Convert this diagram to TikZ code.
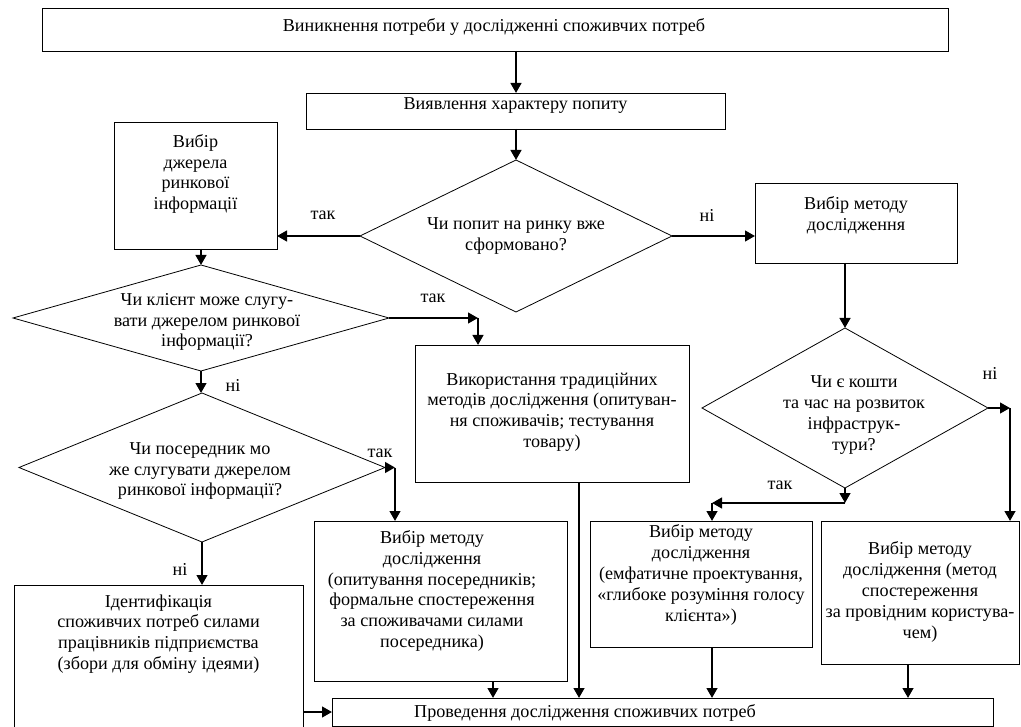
\documentclass[tikz,border=0pt]{standalone}
\usepackage{fontspec}
\setmainfont{Liberation Serif}
\usetikzlibrary{arrows.meta,shapes.geometric,calc}
\newdimen\pxu \pxu=0.75pt
\tikzset{
  box/.style 2 args={draw, line width=0.6pt, rectangle, inner sep=0pt, outer sep=0pt,
     minimum width=#1\pxu, minimum height=#2\pxu},
  dia/.style 2 args={draw, line width=0.6pt, diamond, inner sep=0pt, outer sep=0pt,
     minimum width=#1\pxu, minimum height=#2\pxu},
  txt/.style={align=center, inner sep=0pt, font=\fontsize{13.6}{15.6}\selectfont},
  lbl/.style={inner sep=0pt, font=\fontsize{13.6}{15.6}\selectfont},
  arr/.style={line width=1.7pt, -{Triangle[length=7.5pt,width=8pt]}}
}
\begin{document}
\begin{tikzpicture}[x=0.75pt, y=-0.75pt]
\useasboundingbox (0,0) rectangle (1021,727);
% boxes
\node[box={906}{43}] (b1) at (495,29.5) {};
\node[txt] at (494,27) {Виникнення потреби у дослідженні споживчих потреб};
\node[box={419}{36}] (b2) at (515.5,111) {};
\node[txt] at (515.5,106) {Виявлення характеру попиту};
\node[box={163}{127}] (src) at (195.5,185.5) {};
\node[txt] at (195.5,174) {Вибір\\джерела\\ринкової\\інформації};
\node[box={202}{80}] (meth) at (856,223) {};
\node[txt] at (856,215) {Вибір методу\\дослідження};
\node[box={274}{137}] (use) at (552,413.5) {};
\node[txt] at (552,412) {Використання традиційних\\методів дослідження (опитуван-\\ня споживачів; тестування\\товару)};
\node[box={253}{160}] (inter) at (440.5,601) {};
\node[txt] at (432,591) {Вибір методу\\дослідження\\(опитування посередників;\\формальне спостереження\\за споживачами силами\\посередника)};
\node[box={289}{143}] (ident) at (158.5,656.5) {};
\node[txt] at (158.5,634) {Ідентифікація\\споживчих потреб силами\\працівників підприємства\\(збори для обміну ідеями)};
\node[box={222}{126}] (emp) at (701,584) {};
\node[txt] at (701,575) {Вибір методу\\дослідження\\(емфатичне проектування,\\«глибоке розуміння голосу\\клієнта»)};
\node[box={198}{143}] (lead) at (920,592.5) {};
\node[txt] at (920,592) {Вибір методу\\дослідження (метод\\спостереження\\за провідним користува-\\чем)};
\node[box={661}{28}] (fin) at (662.5,712) {};
\node[txt] at (585,713) {Проведення дослідження споживчих потреб};
% diamonds
\node[dia={312}{152}] (d1) at (516,236) {};
\node[txt] at (516,236) {Чи попит на ринку вже\\сформовано?};
\node[dia={376}{106}] (d2) at (201,318) {};
\node[txt] at (207,322) {Чи клієнт може слугу-\\вати джерелом ринкової\\інформації?};
\node[dia={366}{149}] (d4) at (202,467.5) {};
\node[txt] at (200,471) {Чи посередник мо\\же слугувати джерелом\\ринкової інформації?};
\node[dia={286}{160}] (d3) at (845,408) {};
\node[txt] at (854,415) {Чи є кошти\\та час на розвиток\\інфраструк-\\тури?};
% helper coordinates
\coordinate (c3) at (1010,408);
\coordinate (c4) at (845,503);
\coordinate (c5) at (712,503);
\coordinate (c6) at (908,0);
\coordinate (c7) at (478,318);
\coordinate (c8) at (395,467.5);
\coordinate (c9) at (579,0);
\coordinate (c10) at (493,0);
% connectors
\draw[arr] (b1.south -| d1.north) -- (b2.north -| d1.north);
\draw[arr] (b2.south -| d1.north) -- (d1.north);
\draw[arr] (d1.west) -- (src.east |- d1.west);
\draw[arr] (d1.east) -- (meth.west |- d1.east);
\draw[arr] (meth.south -| d3.north) -- (d3.north);
\draw[arr] (d3.east) -- (c3);
\draw[arr] (c3) -- (lead.north -| c3);
\draw[arr] (d3.south) -- (c4);
\draw[arr] (c4) -- (c5);
\draw[arr] (c5) -- (emp.north -| c5);
\draw[arr] (emp.south -| c5) -- (fin.north -| c5);
\draw[arr] (lead.south -| c6) -- (fin.north -| c6);
\draw[arr] (src.south -| d2.north) -- (d2.north);
\draw[arr] (d2.east) -- (c7);
\draw[arr] (c7) -- (use.north -| c7);
\draw[arr] (use.south -| c9) -- (fin.north -| c9);
\draw[arr] (d2.south) -- (d2.south |- d4.north);
\draw[arr] (d4.east) -- (c8);
\draw[arr] (c8) -- (inter.north -| c8);
\draw[arr] (inter.south -| c10) -- (fin.north -| c10);
\draw[arr] (d4.south) -- (d4.south |- ident.north);
\draw[arr] (fin.west -| ident.east) -- (fin.west);
% labels
\node[lbl] at (323,215) {так};
\node[lbl] at (707,215) {ні};
\node[lbl] at (433,298) {так};
\node[lbl] at (233,385) {ні};
\node[lbl] at (380,453) {так};
\node[lbl] at (180,569) {ні};
\node[lbl] at (990,373) {ні};
\node[lbl] at (780,485) {так};
\end{tikzpicture}
\end{document}
